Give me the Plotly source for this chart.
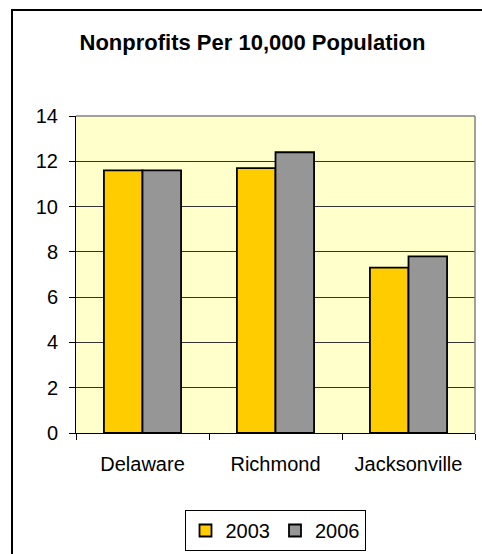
import plotly.graph_objects as go

categories = ["Delaware", "Richmond", "Jacksonville"]
series_names = ["2003", "2006"]
values_2003 = [11.6, 11.7, 7.3]
values_2006 = [11.6, 12.4, 7.8]
y_ticks = [0, 2, 4, 6, 8, 10, 12, 14]
title_text = "Nonprofits Per 10,000 Population"

W, H = 482, 554
L, R, T, B = 76, 7, 116, 121
pw, ph = W - L - R, H - T - B

fig = go.Figure()
fig.add_trace(go.Bar(x=categories, y=values_2003, name=series_names[0],
                     marker=dict(color="#FFCC00", line=dict(color="black", width=1.8))))
fig.add_trace(go.Bar(x=categories, y=values_2006, name=series_names[1],
                     marker=dict(color="#969696", line=dict(color="black", width=1.8))))

font = "Liberation Sans, Arial, sans-serif"

fig.update_layout(
    width=W, height=H,
    margin=dict(l=L, r=R, t=T, b=B, autoexpand=False),
    paper_bgcolor="white",
    plot_bgcolor="#FFFFCC",
    barmode="group", bargap=0.42, bargroupgap=0,
    font=dict(family=font, size=20, color="black"),
    title=dict(text="<b>" + title_text + "</b>", x=252.5 / W, xanchor="center",
               xref="container", y=1 - 42 / H, yanchor="middle", yref="container",
               font=dict(family=font, size=22, color="black")),
    showlegend=True,
    legend=dict(orientation="h", x=(275 - L) / pw, xanchor="center",
                y=-(510 - (H - B)) / ph, yanchor="top",
                bordercolor="black", borderwidth=1, bgcolor="white",
                font=dict(family=font, size=20), itemwidth=30,
                traceorder="normal"),
    xaxis=dict(type="category", showline=True, linecolor="black", linewidth=1,
               ticks="outside", ticklen=6, tickcolor="black", tickson="boundaries",
               showgrid=False, ticklabelstandoff=13),
    yaxis=dict(range=[0, 14], tickvals=y_ticks, showline=True, linecolor="black",
               linewidth=1, ticks="outside", ticklen=6, tickcolor="black",
               showgrid=True, gridcolor="#333333", gridwidth=1, zeroline=False,
               ticklabelstandoff=7),
    shapes=[
        dict(type="line", xref="paper", yref="paper", x0=0, x1=1, y0=1, y1=1,
             line=dict(color="#808080", width=1.5)),
        dict(type="line", xref="paper", yref="paper", x0=1, x1=1, y0=0, y1=1,
             line=dict(color="#808080", width=1.5)),
        dict(type="rect", xref="paper", yref="paper",
             x0=(12 - L) / pw, x1=1.3, y0=-0.8, y1=1 + (T - 10) / ph,
             line=dict(color="black", width=2), layer="above"),
    ],
)

fig.write_html("out.html", config={"displayModeBar": False},
               post_script="document.body.style.margin='0px';")
